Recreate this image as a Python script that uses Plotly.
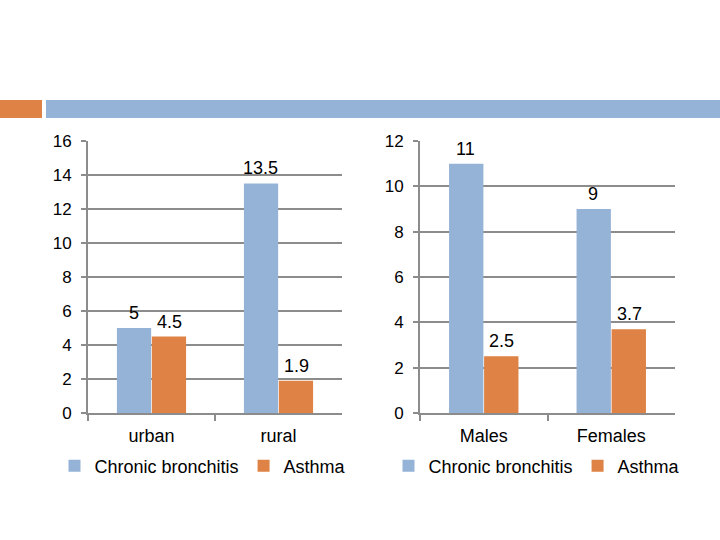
import plotly.graph_objects as go

areas = ["urban", "rural"]
area_bronchitis = [5, 13.5]
area_asthma = [4.5, 1.9]

sexes = ["Males", "Females"]
sex_bronchitis = [11, 9]
sex_asthma = [2.5, 3.7]

left_ticks = [0, 2, 4, 6, 8, 10, 12, 14, 16]
right_ticks = [0, 2, 4, 6, 8, 10, 12]

BLUE = "#95B3D7"
ORANGE = "#DE8245"
GRID = "#8C8C8C"
FONT = "Liberation Sans, Arial, sans-serif"
FS = 18

fig = go.Figure()

fig.add_trace(go.Bar(x=areas, y=area_bronchitis, name="Chronic bronchitis", marker_color=BLUE,
                     xaxis="x", yaxis="y", legend="legend"))
fig.add_trace(go.Bar(x=areas, y=area_asthma, name="Asthma", marker_color=ORANGE,
                     xaxis="x", yaxis="y", legend="legend"))
fig.add_trace(go.Bar(x=sexes, y=sex_bronchitis, name="Chronic bronchitis", marker_color=BLUE,
                     xaxis="x2", yaxis="y2", legend="legend2"))
fig.add_trace(go.Bar(x=sexes, y=sex_asthma, name="Asthma", marker_color=ORANGE,
                     xaxis="x2", yaxis="y2", legend="legend2"))

fig.update_traces(marker_line_width=0, hoverinfo="skip")

# data labels above bars (placed at each bar's value on the axes' own scales)
annotations = []
for cats, vals, xr, yr, shift in [
    (areas, area_bronchitis, "x", "y", -18), (areas, area_asthma, "x", "y", 18),
    (sexes, sex_bronchitis, "x2", "y2", -18), (sexes, sex_asthma, "x2", "y2", 18),
]:
    for c, v in zip(cats, vals):
        annotations.append(dict(x=c, y=v, xref=xr, yref=yr, text=f"{v:g}", showarrow=False,
                                xshift=shift, yshift=3, yanchor="bottom",
                                font=dict(size=FS, color="#000", family=FONT)))

ybot = 1 - 413 / 540
ytop = 1 - 141 / 540

xax = dict(showgrid=False, showline=True, linecolor=GRID, linewidth=2,
           ticks="outside", tickson="boundaries", ticklen=6, tickcolor=GRID, tickwidth=1.5,
           tickfont=dict(size=FS, color="#000", family=FONT), ticklabelstandoff=5,
           automargin=False)
yax = dict(showgrid=True, gridcolor=GRID, gridwidth=1.5, showline=True, linecolor=GRID, linewidth=2,
           ticks="outside", ticklen=5, tickcolor=GRID, tickwidth=1.5, zeroline=False,
           tickfont=dict(size=17, color="#000", family=FONT), ticklabelstandoff=6,
           automargin=False)

fig.update_layout(
    width=720, height=540,
    margin=dict(l=0, r=0, t=0, b=0, pad=0, autoexpand=False),
    paper_bgcolor="white", plot_bgcolor="white",
    barmode="group", bargap=0.45, bargroupgap=0.02,
    font=dict(family=FONT, size=FS, color="#000"),
    xaxis=dict(domain=[88 / 720, 342 / 720], anchor="y", **xax),
    yaxis=dict(domain=[ybot, ytop], anchor="x", range=[0, 16], tickvals=left_ticks, **yax),
    xaxis2=dict(domain=[420 / 720, 675 / 720], anchor="y2", **xax),
    yaxis2=dict(domain=[ybot, ytop], anchor="x2", range=[0, 12], tickvals=right_ticks, **yax),
    legend=dict(orientation="h", x=203 / 720, xanchor="center", y=1 - 466 / 540, yanchor="middle",
                font=dict(size=FS, family=FONT), itemwidth=30, bgcolor="rgba(0,0,0,0)",
                tracegroupgap=0),
    legend2=dict(orientation="h", x=537 / 720, xanchor="center", y=1 - 466 / 540, yanchor="middle",
                 font=dict(size=FS, family=FONT), itemwidth=30, bgcolor="rgba(0,0,0,0)",
                 tracegroupgap=0),
    annotations=annotations,
    shapes=[
        dict(type="rect", xref="paper", yref="paper", x0=0, x1=42 / 720,
             y0=1 - 118 / 540, y1=1 - 100 / 540, fillcolor="#DE8245", line_width=0, layer="below"),
        dict(type="rect", xref="paper", yref="paper", x0=46 / 720, x1=1,
             y0=1 - 118 / 540, y1=1 - 100 / 540, fillcolor="#95B3D7", line_width=0, layer="below"),
    ],
)

fig.write_html("out.html", config={"displayModeBar": False},
               post_script="document.body.style.margin='0';document.body.style.overflow='hidden';")
